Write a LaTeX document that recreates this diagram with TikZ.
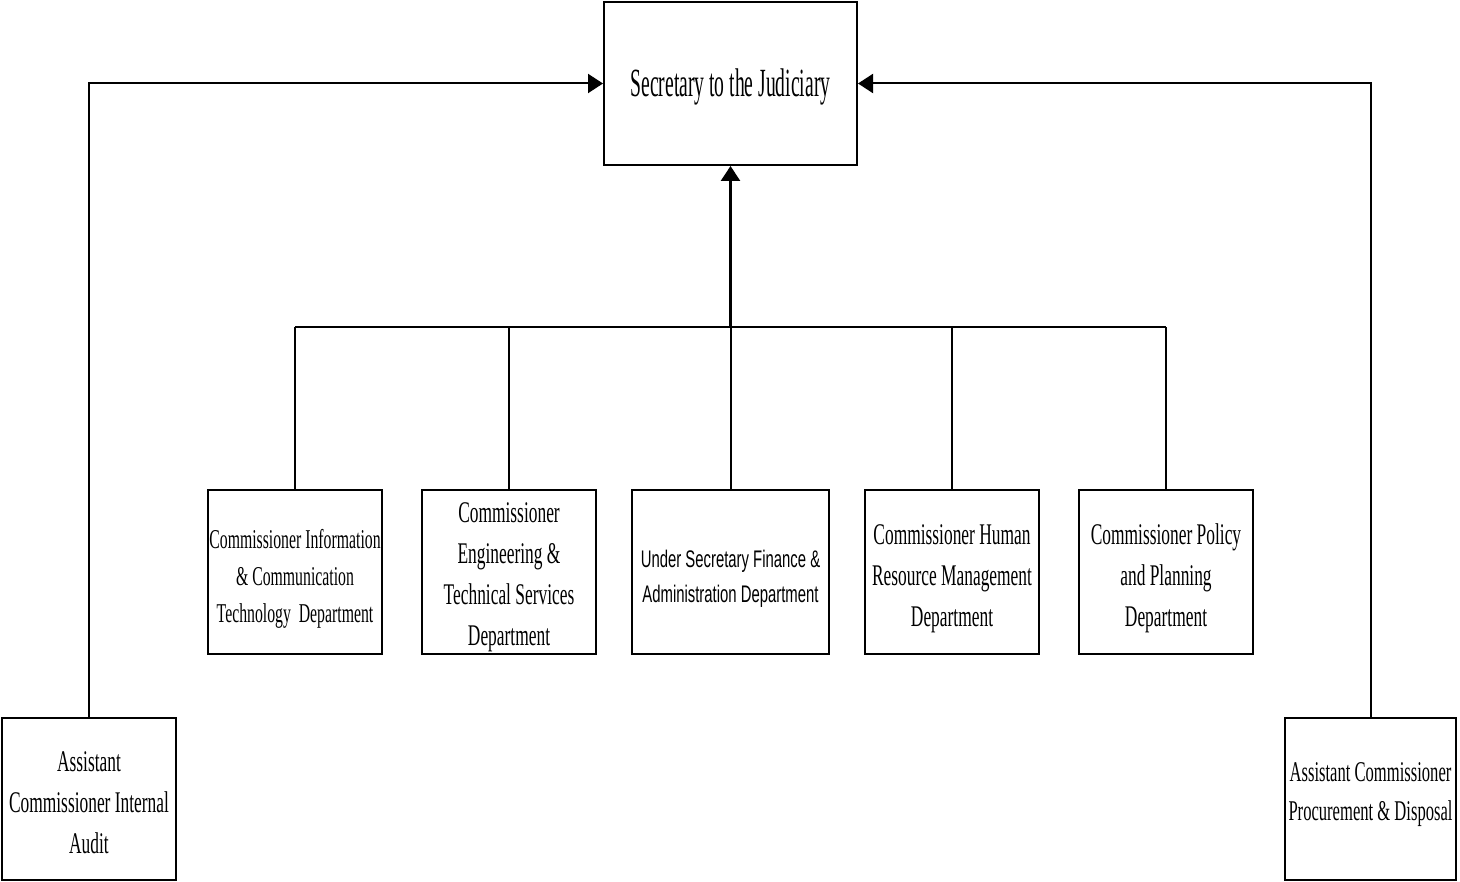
\documentclass[tikz,border=0pt]{standalone}
\usepackage{fontspec}
\setmainfont{Liberation Serif}
\newfontfamily\narrowserif{Liberation Serif}[FakeStretch=0.58]
\newfontfamily\topserif{Liberation Serif}[FakeStretch=0.49]
\newfontfamily\narrowsans{Liberation Sans}[FakeStretch=0.62]
\usetikzlibrary{arrows.meta,positioning}

\begin{document}
\begin{tikzpicture}[x=0.5pt,y=-0.5pt,
    box/.style={draw, line width=1pt, inner sep=0pt, align=center,
      font=\narrowserif\fontsize{15}{20.5}\selectfont},
    link/.style={line width=1pt},
    tip/.style={-{Triangle[length=7.5pt,width=9.5pt]}}]
  \useasboundingbox (0,0) rectangle (1460,882);

  % top
  \node[box, minimum width=253*0.5pt, minimum height=163*0.5pt,
    font=\topserif\fontsize{20}{24}\selectfont] (sec) at (730.5,83.5)
    {\mbox{}\\[-7pt]Secretary to the Judiciary};

  % departments
  \node[box, minimum width=174*0.5pt, minimum height=164*0.5pt,
    font=\narrowserif\fontsize{13.6}{18.5}\selectfont] (ict) at (295,572)
    {\mbox{}\\[-2pt]Commissioner Information\\ \& Communication\\ Technology\ \ Department};
  \node[box, minimum width=174*0.5pt, minimum height=164*0.5pt] (eng) at (509,572)
    {\mbox{}\\[-5pt]Commissioner\\ Engineering \&\\ Technical Services\\ Department};
  \node[box, minimum width=197*0.5pt, minimum height=164*0.5pt,
    font=\narrowsans\fontsize{12}{17.5}\selectfont] (fin) at (730.5,572)
    {\mbox{}\\[-2pt]Under Secretary Finance \&\\ Administration Department};
  \node[box, minimum width=174*0.5pt, minimum height=164*0.5pt] (hrm) at (952,572)
    {\mbox{}\\[-4pt]Commissioner Human\\ Resource Management\\ Department};
  \node[box, minimum width=174*0.5pt, minimum height=164*0.5pt] (policy) at (1166,572)
    {\mbox{}\\[-4pt]Commissioner Policy\\ and Planning\\ Department};

  % assistants
  \node[box, minimum width=174*0.5pt, minimum height=162*0.5pt] (audit) at (89,799)
    {\mbox{}\\[-7pt]Assistant\\ Commissioner Internal\\ Audit};
  \node[box, minimum width=171*0.5pt, minimum height=162*0.5pt,
    font=\narrowserif\fontsize{14.3}{19.5}\selectfont] (proc) at (1370.5,799)
    {Assistant Commissioner\\ Procurement \& Disposal\\[-12pt]\mbox{}};

  \coordinate (bus) at (730.5,327);

  % connectors
  \draw[link, line width=1.3pt] (ict.north |- bus) -- (policy.north |- bus);
  \foreach \n in {ict,eng,fin,hrm,policy}
    \draw[link] (\n.north) -- (\n.north |- bus);
  \draw[link, line width=1.3pt, tip] (bus) -- (sec.south);
  \draw[link, tip] (audit.north) |- (sec.west);
  \draw[link, tip] (proc.north) |- (sec.east);
\end{tikzpicture}
\end{document}
